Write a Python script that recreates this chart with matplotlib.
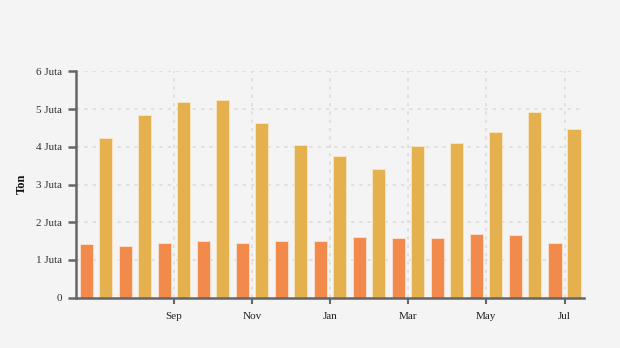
import matplotlib
matplotlib.use("Agg")
import matplotlib.pyplot as plt
import numpy as np

# Monthly volume, July through the following July
months = ["Jul", "Aug", "Sep", "Oct", "Nov", "Dec", "Jan", "Feb", "Mar", "Apr", "May", "Jun", "Jul"]
series_a = [1.43, 1.38, 1.46, 1.49, 1.46, 1.51, 1.51, 1.62, 1.58, 1.58, 1.70, 1.67, 1.46]
series_b = [4.24, 4.83, 5.20, 5.25, 4.62, 4.05, 3.76, 3.40, 4.02, 4.10, 4.38, 4.93, 4.46]
tick_months = ["Sep", "Nov", "Jan", "Mar", "May", "Jul"]
tick_idx = [2, 4, 6, 8, 10, 12]
y_ticks = [0, 1, 2, 3, 4, 5, 6]
y_labels = ["0", "1 Juta", "2 Juta", "3 Juta", "4 Juta", "5 Juta", "6 Juta"]

plt.rcParams["font.family"] = ["Liberation Serif", "DejaVu Serif"]

bg = "#f4f4f4"
fig = plt.figure(figsize=(6.2, 3.48), dpi=100, facecolor=bg)
ax = fig.add_axes([0.1226, 0.1445, 0.8194, 0.6505], facecolor=bg)

x = np.arange(len(months))
off = 0.243
w = 0.335
ax.bar(x - off, series_a, width=w, color="#f28a4c", edgecolor="#fbe3d2",
       linewidth=0.6, zorder=2)
ax.bar(x + off, series_b, width=w, color="#e5b04e", edgecolor="#f7e6c4",
       linewidth=0.6, zorder=2)

ax.set_xlim(-0.5, 12.5)
ax.set_ylim(0, 6)
ax.set_yticks(y_ticks)
ax.set_yticklabels(y_labels)
ax.set_xticks(tick_idx)
ax.set_xticklabels(tick_months)

ax.grid(True, color="#dcdcdc", linestyle=(0, (2, 3)), linewidth=1.2, zorder=0)
ax.set_axisbelow(True)

for s in ["top", "right"]:
    ax.spines[s].set_visible(False)
for s in ["left", "bottom"]:
    ax.spines[s].set_color("#666666")
    ax.spines[s].set_linewidth(1.8)

ax.tick_params(axis="y", length=6, width=1.8, color="#666666", labelsize=8,
               labelcolor="#333333", pad=4)
ax.tick_params(axis="x", length=4, width=1.5, color="#666666", labelsize=8,
               labelcolor="#222222", pad=6)

fig.text(22 / 620, 1 - 184 / 348, "Ton", rotation=90, ha="center", va="center",
         fontsize=9, fontweight="bold", color="#111111")

fig.savefig("out.png", dpi=100, facecolor=bg)
